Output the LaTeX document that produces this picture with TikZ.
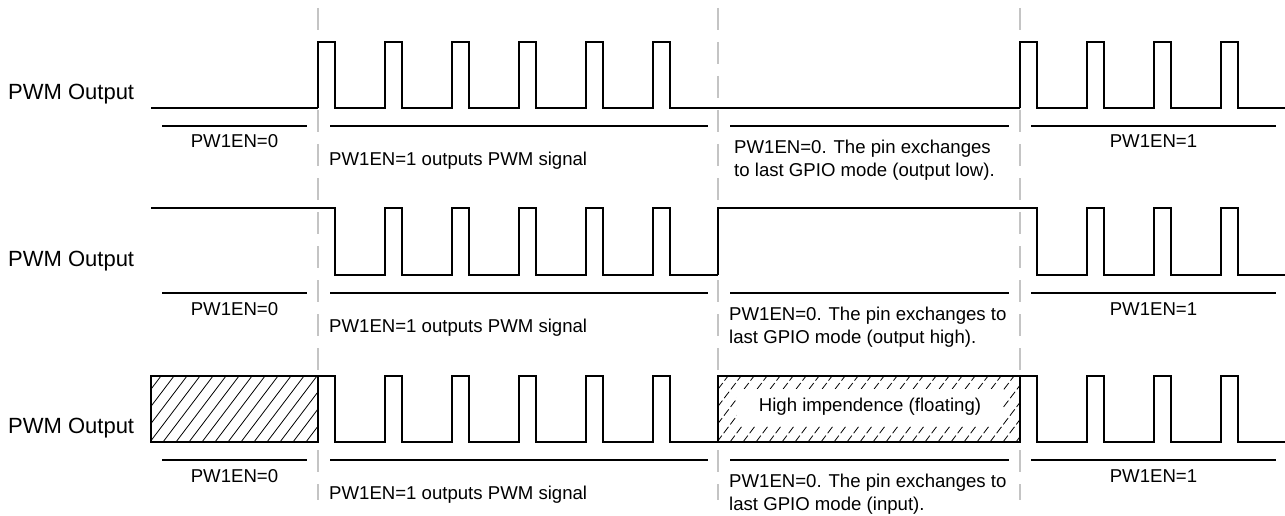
\documentclass[tikz,border=0pt]{standalone}
\usepackage{fontspec}
\setmainfont{Liberation Sans}
\usetikzlibrary{arrows.meta, positioning, calc}
\definecolor{GuideGray}{RGB}{196,196,196}
\tikzset{every node/.style={font=\fontsize{18.6}{23}\selectfont, inner sep=0pt}}
\tikzset{
    wave/.style={line width=2.6pt, line join=miter},
    idle/.style={line width=1.6pt, line join=miter},
    enline/.style={line width=1.4pt},
    guide/.style={GuideGray, line width=2pt, dash pattern=on 22pt off 12pt},
    hatchbox/.style={line width=1.3pt},
    hatchline/.style={line width=0.8pt},
    siglabel/.style={font=\fontsize{22}{26}\selectfont, anchor=base west},
    enlabel/.style={anchor=base},
    notelabel/.style={anchor=north west, align=left}
}

\begin{document}
\begin{tikzpicture}[x=1pt, y=-1pt]
    \useasboundingbox (0,0) rectangle (1285,516);

    % switching instants
    \foreach \x in {318, 718, 1020}
        \draw [guide] (\x,8) -- (\x,500);

    % row 1: output low
    \node [siglabel] (out1) at (8,99.5) {PWM Output};
    \draw [idle] (151,108) -- (318,108);
    \draw [wave] (318,108) foreach \x in {318,385,452,519,586,653} { -- (\x,108) -- (\x,42) -- (\x+17,42) -- (\x+17,108) } -- (718,108);
    \draw [idle] (718,108) -- (1020,108);
    \draw [wave] (1020,108) foreach \x in {1020,1087,1154,1221} { -- (\x,108) -- (\x,42) -- (\x+17,42) -- (\x+17,108) } -- (1285,108);

    % row 2: output high
    \node [siglabel] (out2) at (8,266.5) {PWM Output};
    \draw [idle] (151,208) -- (318,208);
    \draw [wave] (318,208) -- (335,208) -- (335,275) foreach \x in {385,452,519,586,653} { -- (\x,275) -- (\x,208) -- (\x+17,208) -- (\x+17,275) } -- (718,275);
    \draw [idle] (718,275) -- (718,208) -- (1020,208);
    \draw [wave] (1020,208) -- (1037,208) -- (1037,275) foreach \x in {1087,1154,1221} { -- (\x,275) -- (\x,208) -- (\x+17,208) -- (\x+17,275) } -- (1285,275);

    % row 3: input (floating)
    \node [siglabel] (out3) at (8,433.5) {PWM Output};
    \begin{scope}
        \clip (151,376) rectangle (318,442);
        \foreach \x in {98,111,...,320}
            \draw [hatchline] (\x,442) -- (\x+50,376);
    \end{scope}
    \draw [hatchbox] (151,376) rectangle (318,442);
    \draw [wave] (318,376) -- (335,376) -- (335,442) foreach \x in {385,452,519,586,653} { -- (\x,442) -- (\x,376) -- (\x+17,376) -- (\x+17,442) } -- (718,442);
    \begin{scope}
        \clip (718,376) rectangle (1020,442);
        \foreach \x in {665,678,...,1022}
            \draw [hatchline, dash pattern=on 8pt off 3pt] (\x,442) -- (\x+50,376);
    \end{scope}
    \draw [hatchbox] (718,376) rectangle (1020,442);
    \node [fill=white, minimum width=266pt, minimum height=37pt] (hiz) at (870,407) {High impendence (floating)};
    \draw [wave] (1020,376) -- (1037,376) -- (1037,442) foreach \x in {1087,1154,1221} { -- (\x,442) -- (\x,376) -- (\x+17,376) -- (\x+17,442) } -- (1285,442);

    % enable intervals
    \foreach \r/\y in {1/126, 2/293, 3/460} {
        \draw [enline] (162,\y) -- (307,\y);
        \draw [enline] (330,\y) -- (708,\y);
        \draw [enline] (730,\y) -- (1009,\y);
        \draw [enline] (1031,\y) -- (1276,\y);
        \node [enlabel] (off\r) at (234.5,\y+22) {PW1EN=0};
        \node [enlabel] (on\r) at (1153.5,\y+22) {PW1EN=1};
        \node [anchor=base west] (pwm\r) at (329,\y+39) {PW1EN=1 outputs PWM signal};
    }
    \node [notelabel] (gpio1) at (734,140) {PW1EN=0. The pin exchanges\\to last GPIO mode (output low).};
    \node [notelabel] (gpio2) at (729,307) {PW1EN=0. The pin exchanges to\\last GPIO mode (output high).};
    \node [notelabel] (gpio3) at (729,474) {PW1EN=0. The pin exchanges to\\last GPIO mode (input).};
\end{tikzpicture}
\end{document}
